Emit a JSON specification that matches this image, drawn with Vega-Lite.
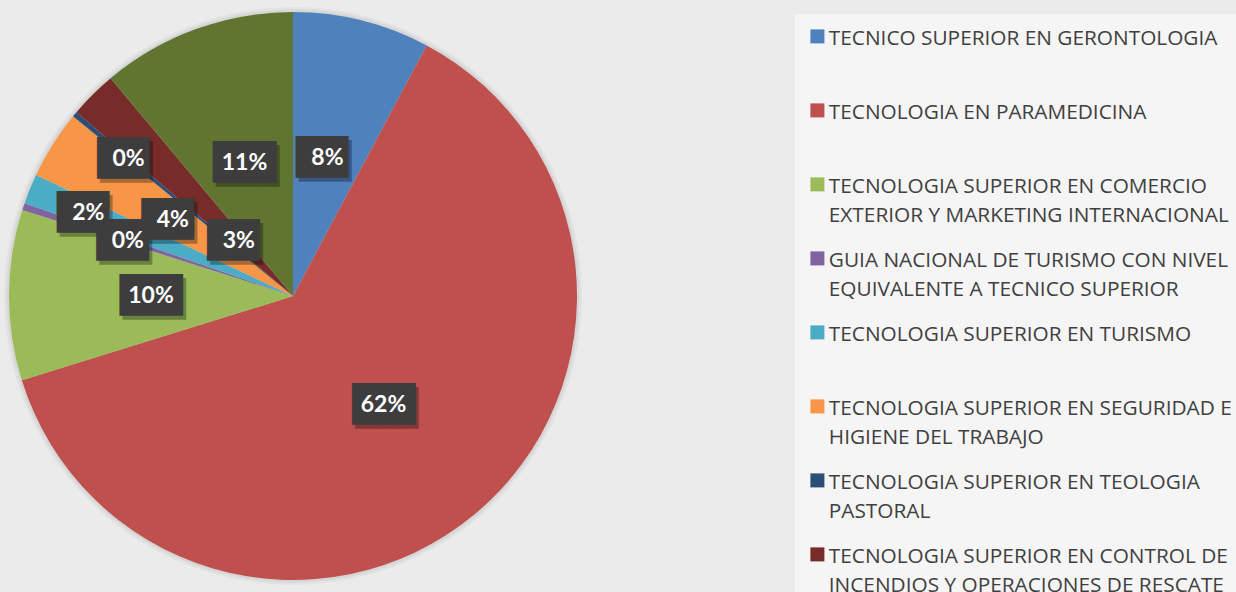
{
  "$schema": "https://vega.github.io/schema/vega-lite/v6.json",
  "width": 586,
  "height": 592,
  "autosize": {"type": "none"},
  "padding": {"left": 0, "top": 0, "right": 650, "bottom": 0},
  "background": "#ebebeb",
  "view": {"stroke": null},
  "data": {
    "values": [
      {"c": "TECNICO SUPERIOR EN GERONTOLOGIA", "v": 0.078, "o": 1},
      {"c": "TECNOLOGIA EN PARAMEDICINA", "v": 0.624, "o": 2},
      {"c": "TECNOLOGIA SUPERIOR EN COMERCIO\nEXTERIOR Y MARKETING INTERNACIONAL", "v": 0.097, "o": 3},
      {"c": "GUIA NACIONAL DE TURISMO CON NIVEL\nEQUIVALENTE A TECNICO SUPERIOR", "v": 0.004, "o": 4},
      {"c": "TECNOLOGIA SUPERIOR EN TURISMO", "v": 0.017, "o": 5},
      {"c": "TECNOLOGIA SUPERIOR EN SEGURIDAD E\nHIGIENE DEL TRABAJO", "v": 0.039, "o": 6},
      {"c": "TECNOLOGIA SUPERIOR EN TEOLOGIA\nPASTORAL", "v": 0.003, "o": 7},
      {"c": "TECNOLOGIA SUPERIOR EN CONTROL DE\nINCENDIOS Y OPERACIONES DE RESCATE", "v": 0.027, "o": 8},
      {"c": "OTRAS", "v": 0.111, "o": 9}
    ]
  },
  "encoding": {
    "theta": {"field": "v", "type": "quantitative", "stack": true},
    "order": {"field": "o", "type": "quantitative"}
  },
  "layer": [
    {
      "mark": {"type": "arc", "outerRadius": 289, "color": "#000000", "opacity": 0.035}
    },
    {
      "mark": {"type": "arc", "outerRadius": 286.5, "color": "#000000", "opacity": 0.05}
    },
    {
      "mark": {"type": "arc", "outerRadius": 284},
      "encoding": {
        "color": {
          "field": "c",
          "type": "nominal",
          "sort": null,
          "scale": {
            "domain": [
              "TECNICO SUPERIOR EN GERONTOLOGIA",
              "TECNOLOGIA EN PARAMEDICINA",
              "TECNOLOGIA SUPERIOR EN COMERCIO\nEXTERIOR Y MARKETING INTERNACIONAL",
              "GUIA NACIONAL DE TURISMO CON NIVEL\nEQUIVALENTE A TECNICO SUPERIOR",
              "TECNOLOGIA SUPERIOR EN TURISMO",
              "TECNOLOGIA SUPERIOR EN SEGURIDAD E\nHIGIENE DEL TRABAJO",
              "TECNOLOGIA SUPERIOR EN TEOLOGIA\nPASTORAL",
              "TECNOLOGIA SUPERIOR EN CONTROL DE\nINCENDIOS Y OPERACIONES DE RESCATE",
              "OTRAS"
            ],
            "range": ["#4F81BD", "#C0504D", "#9BBB59", "#8064A2", "#4BACC6", "#F79646", "#2C4D75", "#772C2A", "#5F7530"]
          },
          "legend": {
            "orient": "none",
            "legendX": 795,
            "legendY": 14,
            "title": null,
            "padding": 12,
            "fillColor": "#f5f5f5",
            "symbolType": "square",
            "symbolSize": 196,
            "symbolStrokeWidth": 0,
            "labelFont": "Open Sans",
            "labelFontSize": 20.8,
            "labelColor": "#404040",
            "labelLimit": 600,
            "labelOffset": 1,
            "rowPadding": 21,
            "labelBaseline": "middle",
            "labelExpr": "indexof(datum.label, '\\n') < 0 ? [datum.label, ' '] : split(datum.label, '\\n')",
            "encode": {
              "labels": {"update": {"dy": {"value": 3}, "lineHeight": {"value": 29}}}
            }
          }
        }
      }
    },
    {
      "mark": {"type": "text", "font": "DejaVu Sans Mono", "fontSize": 35, "color": "#000000", "opacity": 0.3, "dx": 3, "dy": 4, "align": "center", "baseline": "middle"},
      "encoding": {
        "text": {"condition": {"test": "datum.v < 0.095", "value": "██▌"}, "value": "███"},
        "radius": {"value": {"expr": "datum.o == 5 ? 221 : datum.o == 4 ? 174 : datum.o == 7 ? 214 : datum.o == 8 ? 77 : 142"}}
      }
    },
    {
      "mark": {"type": "text", "font": "DejaVu Sans Mono", "fontSize": 35, "color": "#3d3d3d", "align": "center", "baseline": "middle"},
      "encoding": {
        "text": {"condition": {"test": "datum.v < 0.095", "value": "██▌"}, "value": "███"},
        "radius": {"value": {"expr": "datum.o == 5 ? 221 : datum.o == 4 ? 174 : datum.o == 7 ? 214 : datum.o == 8 ? 77 : 142"}}
      }
    },
    {
      "mark": {"type": "text", "font": "Lato", "fontWeight": "bold", "fontSize": 23, "color": "#ffffff", "align": "center", "baseline": "middle"},
      "encoding": {
        "text": {"field": "v", "type": "quantitative", "format": ".0%"},
        "radius": {"value": {"expr": "datum.o == 5 ? 221 : datum.o == 4 ? 174 : datum.o == 7 ? 214 : datum.o == 8 ? 77 : 142"}}
      }
    }
  ]
}
